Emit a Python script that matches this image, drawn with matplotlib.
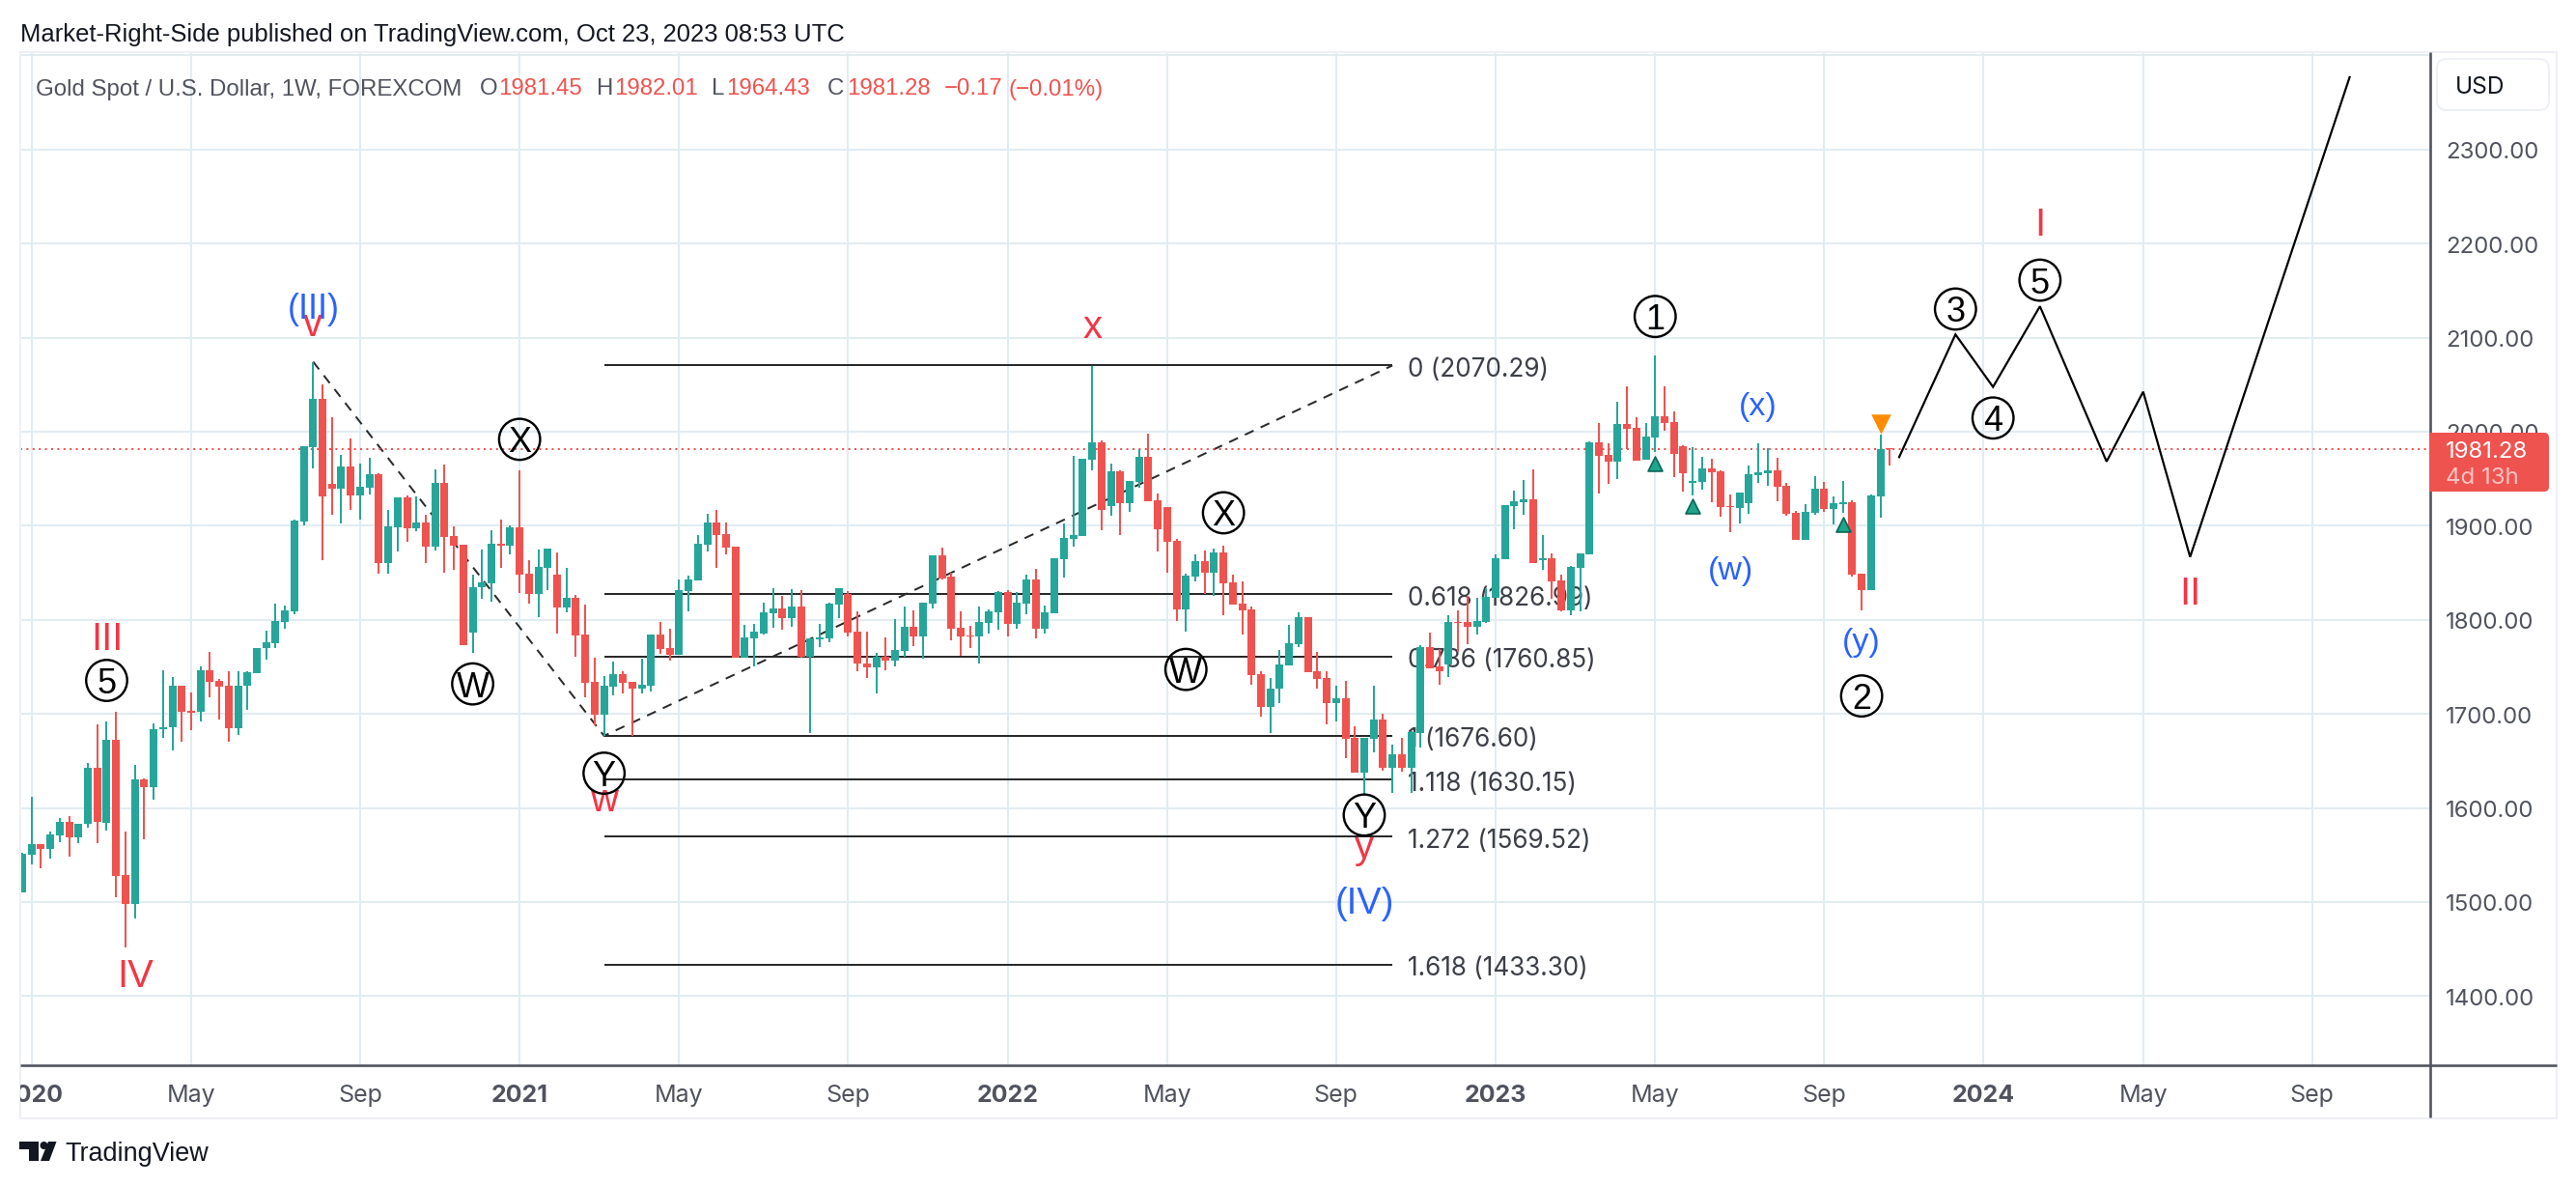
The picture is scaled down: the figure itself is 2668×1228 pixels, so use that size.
import matplotlib
matplotlib.use("Agg")
import matplotlib.pyplot as plt
from matplotlib.patches import Rectangle, FancyBboxPatch, Polygon, Circle

W, H = 2668, 1228
PX = 0.72  # points per pixel at dpi 100

opens = [1510,1550.5,1561.9,1556.2,1570.4,1585.5,1569,1583,1643,1584.5,
1672.8,1528.8,1497.7,1630.8,1621.8,1683.2,1685.5,1729.4,1703,1702,
1746.8,1734.6,1729.4,1684.6,1729.8,1743,1770,1775.2,1797.8,1808.7,
1904,1983.7,2034.7,1944.1,1938.9,1962.5,1932.3,1940.8,1954.5,1860.6,
1898.3,1930,1896.9,1903,1877.6,1945,1888.9,1879.5,1786.5,1834.6,
1838.9,1880.4,1878.5,1897.9,1848.8,1827.5,1855.4,1847.8,1813.4,1823.8,
1784,1733.5,1698.6,1728.7,1742.7,1733.5,1726.6,1729.7,1783.9,1769.5,
1762.3,1830.1,1841.8,1879.8,1903.1,1890.8,1877.4,1759.5,1779.8,1785.6,
1806.5,1811.6,1801.3,1813.7,1760.2,1779.4,1779.8,1816.1,1827,1787,
1754,1749.3,1760.2,1756.5,1766.7,1792.1,1781.8,1816.8,1868.1,1845.5,
1791.1,1782.8,1781.8,1796.2,1807.5,1829.1,1795.2,1816.8,1842.4,1790,
1806.5,1864,1885.6,1888.7,1969.9,1988.4,1920.6,1957.6,1923.6,1946.3,
1973,1926.7,1919.5,1883.6,1810.6,1845.5,1862,1849.6,1871.2,1839.4,
1816.8,1810.6,1741.7,1706.8,1726.3,1751,1773.6,1802.4,1744.8,1737.6,
1710.9,1717,1674.9,1637.9,1673.9,1694.4,1643,1657.4,1643,1680,
1770.5,1749.9,1752,1797.2,1797.2,1792.1,1797.2,1822.9,1864,1920.6,
1924.7,1927.8,1863.7,1865,1841.4,1809.6,1854.8,1869.2,1988.4,1975,
1967.8,2007.9,2003.8,1969.9,1993.5,2016.1,2010,1984.3,1945.2,1946.3,
1960.6,1957.6,1920.6,1918.5,1923.7,1953.5,1955.5,1958.6,1942.2,1913.4,
1885.3,1913.4,1939,1917.5,1923,1924.7,1848.6,1831.2,1930.8,1981.45]
highs = [1552,1611.4,1562,1575,1589.2,1591,1583.1,1648,1689,1691.6,
1702.5,1575,1645.4,1631.7,1689.8,1746.8,1738.8,1729.4,1723,1750.6,
1765.3,1737.4,1745,1745,1745,1770.4,1788.4,1817.6,1814.8,1906.3,
1984.2,2074.3,2049.8,2014.9,1975.7,1992.2,1965.8,1972.4,1955.4,1916.3,
1930,1932.3,1930.9,1911.6,1959.7,1964.9,1898.8,1879.5,1847.8,1874.7,
1895.5,1906.3,1900.7,1958.7,1862.9,1874.3,1875.2,1871.4,1854.9,1826.6,
1815.7,1759.2,1739.7,1755.1,1744.8,1733.5,1758.2,1783.9,1797.2,1790,
1842.4,1846.6,1889.7,1912.3,1916.4,1903.1,1877.4,1794.1,1795.2,1817.8,
1833.2,1825,1832.2,1831.1,1779.8,1795.2,1818.5,1833.2,1830.1,1808.5,
1787,1764.3,1780.8,1800.3,1813.7,1809.6,1817.8,1868.1,1876.4,1849.6,
1808.5,1793.1,1813.7,1810.6,1830.1,1831.1,1829.1,1847.6,1853.8,1814.7,
1865,1902.1,1974,1970.9,2069.6,1990.4,1965.8,1958.6,1947.3,1981.2,
1997.6,1933.9,1919.5,1885.6,1848.6,1869.2,1873.3,1875.3,1878.4,1847.6,
1840.4,1813.7,1744.8,1738.6,1767.4,1794.1,1807.5,1802.4,1765.4,1744.8,
1729.4,1734.5,1687.2,1674.9,1729.4,1699.6,1667.7,1674.9,1682.1,1772.6,
1785.9,1768.4,1804.4,1809.6,1825,1822.9,1833.9,1869.2,1921.6,1937,
1948.3,1959.6,1889.7,1870.2,1847.6,1856.8,1870.2,1989.4,2008.9,1987.4,
2031.6,2048,2015.1,2008.9,2080.9,2048,2021.3,1985.3,1983.3,1973,
1970.9,1958.6,1932.9,1935,1963.7,1987.4,1982.2,1972,1945.2,1915.4,
1922.6,1952.4,1946.3,1930.9,1947.3,1926.7,1848.6,1932.9,1996.6,1982.01]
lows = [1510,1539.7,1535.9,1545.8,1563.3,1547.7,1562.3,1579,1563,1575.6,
1504.8,1451.4,1482,1567,1608.6,1674.7,1661,1670.4,1682.7,1692.1,
1717.6,1694,1670.4,1677.5,1704.4,1743,1757.7,1770,1790.7,1805.8,
1900.7,1960.6,1863.4,1911.6,1902.6,1916.7,1906.8,1933.3,1849.3,1849.3,
1872.8,1883.2,1894.5,1860.6,1873.8,1850.2,1853,1773.3,1764.8,1822.3,
1819.5,1855.4,1869.6,1828.5,1817.2,1803,1831.3,1785.6,1808.2,1760.5,
1717.5,1687.6,1676.3,1719.1,1721.5,1676.3,1721.5,1723.6,1763.6,1756.5,
1762.3,1808.9,1841.8,1872.6,1855.1,1869.5,1759.5,1759.5,1750.3,1783.9,
1791.1,1789,1792.1,1759.2,1679.4,1770.5,1775.6,1801.7,1781.8,1744.8,
1738,1721.5,1746.2,1750.3,1760.2,1771.5,1758.2,1811.6,1842.4,1777.7,
1761.3,1769.5,1753,1784.9,1789,1781.8,1790,1805.4,1779.8,1784.9,
1806.5,1844.5,1877.4,1888.7,1958.6,1894.9,1910.3,1889.7,1914.4,1940.1,
1925.7,1872.3,1849.6,1798.2,1787.3,1840.7,1827,1825.3,1804.8,1815.7,
1783.9,1731.4,1697.5,1680,1710.9,1751,1770.5,1743.8,1727.3,1688.3,
1691.4,1653.3,1637.9,1614.3,1659.5,1640,1616.3,1638.2,1616.3,1664.6,
1747.9,1731.4,1739.6,1765.4,1773.6,1783.9,1796.2,1822.9,1864,1895.9,
1911.3,1859.9,1852.7,1821.9,1808.5,1804.8,1808.5,1869.2,1933.9,1944.2,
1949.3,1981.2,1969.2,1969.9,1978.1,2000.7,1951.4,1936,1931.9,1938,
1924.7,1909.3,1892.8,1902.4,1912.4,1945.2,1942.2,1925.7,1911,1884.6,
1884.6,1911.3,1914.4,1901,1913.4,1845.9,1809.6,1831.2,1908.2,1964.43]
closes = [1551.5,1561.9,1556.2,1571.3,1585.5,1569,1583.1,1643,1585,1672.8,
1527.9,1497.7,1630.8,1621.8,1683.2,1686,1729.4,1702.5,1701,1746.8,
1734,1728.9,1684.6,1730.3,1744,1770.4,1775.6,1798.3,1809.6,1905.4,
1984.2,2034.7,1931.4,1938.9,1962.5,1932.3,1941.3,1954.5,1860.6,1898.8,
1930,1896.9,1903,1878,1945,1888,1878.5,1773.3,1835.1,1839.3,
1880.4,1878.5,1897.9,1848.3,1827.5,1855.9,1875.2,1813.4,1823.8,1783.2,
1733,1698.6,1729.4,1742.7,1732.8,1726.6,1730.4,1783.9,1768.8,1762.3,
1831.1,1842.4,1880.5,1903.1,1890,1876.7,1759.5,1780.8,1787,1807.5,
1811.6,1801.3,1813.7,1760.2,1779.8,1780.8,1816.8,1833.2,1785.9,1753.4,
1749.3,1760.2,1756.5,1767.4,1792.1,1781.8,1817.8,1868.1,1844.2,1790,
1781.8,1781.8,1797.2,1808.5,1829.1,1795.2,1817.8,1842.4,1790,1807.5,
1865,1886.6,1889.7,1970.9,1988.4,1916.4,1957.6,1923.6,1947.3,1973,
1925.7,1895.9,1882.5,1810.6,1846.6,1862,1849.6,1871.2,1838.3,1815.7,
1809.6,1740.7,1706.8,1727.3,1752,1774.6,1802.4,1743.8,1736.6,1710.9,
1717,1673.9,1637.9,1674.9,1694.4,1643,1657.4,1643,1681.1,1770.5,
1747.9,1744.8,1797.2,1796.2,1792.1,1798.3,1824,1865,1921.6,1925.7,
1927.8,1859.9,1865,1840.4,1809.6,1855.8,1870.2,1988.4,1974,1967.8,
2007.9,2002.8,1969.2,1994.6,2016.1,2008.9,1976.1,1955.5,1947.3,1960.6,
1956.5,1919.5,1919.5,1935,1954.5,1956.5,1958.6,1941.1,1912.4,1885.3,
1914.4,1939,1917.5,1923.7,1924.7,1847.6,1831.2,1931.9,1981.2,1981.28]

y_ticks = [1400, 1500, 1600, 1700, 1800, 1900, 2000, 2100, 2200, 2300, 2400]
x_tick_pos = [1, 18, 36, 53, 70, 88, 105, 122, 140, 157, 174, 192, 209, 226, 244]
x_tick_lab = ["2020", "May", "Sep", "2021", "May", "Sep", "2022", "May", "Sep", "2023", "May", "Sep", "2024", "May", "Sep"]
fib_levels = ["0", "0.618", "0.786", "1", "1.118", "1.272", "1.618"]
fib_prices = [2070.29, 1826.99, 1760.85, 1676.60, 1630.15, 1569.52, 1433.30]
fib_start, fib_end = 62, 146
swing_x = [31, 62, 146]
swing_y = [2074.3, 1676.6, 2070.29]
path_x = [200, 206, 210, 215, 222.1, 226, 231, 248]
path_y = [1972.9, 2103.3, 2047.5, 2133.2, 1968.2, 2042.4, 1866.8, 2376.8]
last_price = 1981.28
circles = [("5", 9, 1735.5), ("X", 53, 1991.8), ("W", 48, 1731.8), ("Y", 62, 1636.9), ("X", 128, 1913.7),
           ("W", 124, 1747.2), ("Y", 143, 1592.4), ("1", 174, 2122.4), ("2", 196, 1719), ("3", 206, 2130.3),
           ("4", 210, 2014.5), ("5", 215, 2161)]
red_labels = [("III", 9, 1779), ("IV", 12, 1420.5), ("v", 31, 2113), ("w", 62, 1608), ("x", 114, 2111),
              ("y", 143, 1557), ("I", 215, 2220), ("II", 231, 1827)]
blue_labels = [("(III)", 31, 2129.5, 36), ("(IV)", 143, 1498, 38), ("(w)", 182, 1851.7, 34),
               ("(x)", 185, 2025.8, 34), ("(y)", 196, 1775.4, 34)]
up_marks_x, up_marks_y = [174, 178, 194], [1965.8, 1920.6, 1901.7]
down_marks_x, down_marks_y = [198], [2007.6]

UP, DOWN = "#26a69a", "#ef5350"
GRID = "#e1ecf2"
AXC = "#50535e"
TXT = "#50535e"
RED = "#f23645"
BLUE = "#2962ff"
FONT = "Inter"

fig = plt.figure(figsize=(W / 100, H / 100), dpi=100, facecolor="white")
plt.rcParams["font.family"] = [FONT, "DejaVu Sans"]

AX_L, AX_R, AX_T, AX_B = 20.5, 2517.0, 54.0, 1103.0
ax = fig.add_axes([AX_L / W, 1 - AX_B / H, (AX_R - AX_L) / W, (AX_B - AX_T) / H])
X0, DX = 23.0, 9.72
Y2000, DY = 446.9, 0.974
ax.set_xlim((AX_L - X0) / DX, (AX_R - X0) / DX)
ax.set_ylim(2000 - (AX_B - Y2000) / DY, 2000 - (AX_T - Y2000) / DY)
for s in ax.spines.values():
    s.set_visible(False)
ax.set_xticks(x_tick_pos)
ax.set_yticks(y_ticks)
ax.tick_params(length=0, labelbottom=False, labelleft=False)
ax.grid(True, color=GRID, lw=2 * PX, zorder=0)
ax.set_axisbelow(True)

# fib tool under candles
ax.hlines(fib_prices, fib_start, fib_end, color="#2a2a2a", lw=2 * PX, zorder=1)
for name, price in zip(fib_levels, fib_prices):
    ax.text(fib_end + 1.6, price - 1.5, f"{name} ({price:.2f})", fontsize=26.2 * PX, color="#3c3f47",
            va="center_baseline", ha="left", zorder=1, family=FONT)
ax.plot(swing_x, swing_y, color="#2a2a2a", lw=2 * PX, dashes=(5, 4), zorder=1)

# candles
idx = list(range(len(opens)))
bot = [min(o, c) for o, c in zip(opens, closes)]
hgt = [max(abs(o - c), 1.2) for o, c in zip(opens, closes)]
col = [UP if c >= o else DOWN for o, c in zip(opens, closes)]
ax.vlines(idx, lows, highs, colors=col, lw=2 * PX, zorder=3)
ax.bar(idx, hgt, bottom=bot, width=0.82, color=col, linewidth=0, zorder=4)

ax.axhline(last_price, color=DOWN, lw=2 * PX, ls=(0, (1, 2.2)), zorder=2, dash_capstyle="butt")
ax.plot(path_x, path_y, color="black", lw=2.2 * PX, zorder=5, solid_joinstyle="miter")

ax.scatter(up_marks_x, up_marks_y, marker="^", s=(13 * PX) ** 2 * 1.3, facecolor="#1fa58c", edgecolor="#0c6b5b",
           linewidth=1.8 * PX, zorder=6)
ax.scatter(down_marks_x, down_marks_y, marker="v", s=(18 * PX) ** 2 * 1.3, facecolor="#ff8c00", linewidth=0, zorder=6)

for t, x, y in red_labels:
    ax.text(x, y, t, color=RED, fontsize=40 * PX, ha="center", va="center", zorder=6, family="Liberation Sans")
for t, x, y, size in blue_labels:
    ax.text(x, y, t, color=BLUE, fontsize=size * PX, ha="center", va="center", zorder=6, family="Liberation Sans")
for t, x, y in circles:
    ax.scatter([x], [y], s=(42.5 * PX) ** 2, facecolor="none", edgecolor="black", linewidth=2.4 * PX, zorder=7)
    ax.text(x, y, t, color="black", fontsize=36 * PX, ha="center", va="center_baseline", zorder=7, family="Liberation Sans")

# chrome in pixel coordinates
px = fig.add_axes([0, 0, 1, 1], zorder=10)
px.set_xlim(0, W)
px.set_ylim(H, 0)
px.axis("off")
px.patch.set_alpha(0)
FRAME = "#eef0f5"
px.add_patch(Rectangle((AX_L, 54), 2648 - AX_L, 1157.5 - 54, fill=False, ec=FRAME, lw=2 * PX))
px.plot([AX_R, AX_R], [54, 1157], color=AXC, lw=2.6 * PX, solid_capstyle="butt")
px.plot([AX_L, 2648], [AX_B, AX_B], color=AXC, lw=2.6 * PX, solid_capstyle="butt")

sy = lambda p: Y2000 + (2000 - p) * DY
sx = lambda i: X0 + DX * i
for p in y_ticks[:-1]:
    px.text(2533, sy(p) + 1, f"{p:.2f}", color=TXT, fontsize=24 * PX, va="center_baseline", ha="left", family=FONT, zorder=3)

clip = Rectangle((AX_L, 1100), 2640, 60, transform=px.transData)
for pos, lab in zip(x_tick_pos, x_tick_lab):
    is_year = lab[0] == "2"
    t = px.text(sx(pos), 1132, lab, color=TXT, fontsize=25 * PX, ha="center", va="center_baseline",
                fontweight="bold" if is_year else "normal", family=FONT)
    t.set_clip_path(clip)
    t.set_clip_on(True)

# last price tag
px.add_patch(FancyBboxPatch((2520, 451), 117, 55, boxstyle="round,pad=3,rounding_size=5", fc=DOWN, ec="none", zorder=5))
px.add_patch(Rectangle((2516, 448), 8, 61, fc=DOWN, ec="none", zorder=5))
px.text(2533, 465.5, "1981.28", color="white", fontsize=24 * PX, va="center_baseline", family=FONT, zorder=6)
px.text(2533, 492.5, "4d 13h", color="#fbc4c2", fontsize=24 * PX, va="center_baseline", family=FONT, zorder=6)

# currency button
px.add_patch(FancyBboxPatch((2530, 67), 104, 41, boxstyle="round,pad=6,rounding_size=10", fc="white", ec=FRAME, lw=2 * PX))
px.text(2543, 88, "USD", color="#131722", fontsize=24.5 * PX, va="center_baseline", family=FONT)

# header
px.text(21, 34, "Market-Right-Side published on TradingView.com, Oct 23, 2023 08:53 UTC", color="#131722",
        fontsize=25.6 * PX, va="center_baseline", family="Liberation Sans")
hdr = [("Gold Spot / U.S. Dollar, 1W, FOREXCOM", 37, TXT), ("O", 497, TXT), ("1981.45", 516, DOWN), ("H", 618, TXT),
       ("1982.01", 636, DOWN), ("L", 737, TXT), ("1964.43", 752, DOWN), ("C", 857, TXT), ("1981.28", 877, DOWN),
       ("\u22120.17", 978, DOWN), ("(\u22120.01%)", 1044, DOWN)]
for s, x, c in hdr:
    px.text(x, 90, s, color=c, fontsize=24 * PX, va="center_baseline", family="Liberation Sans")

# logo
LOGO = "#131722"
px.add_patch(Polygon([(20, 1182), (40, 1182), (40, 1202), (30, 1202), (30, 1190), (20, 1190)], fc=LOGO, ec="none"))
px.add_patch(Circle((45.5, 1186), 4, fc=LOGO, ec="none"))
px.add_patch(Polygon([(50, 1182), (58.5, 1182), (51, 1202), (42, 1202)], fc=LOGO, ec="none"))
px.text(67, 1192, "TradingView", color=LOGO, fontsize=27 * PX, va="center_baseline", family="Liberation Sans")

fig.savefig("out.png", dpi=100, facecolor="white")
